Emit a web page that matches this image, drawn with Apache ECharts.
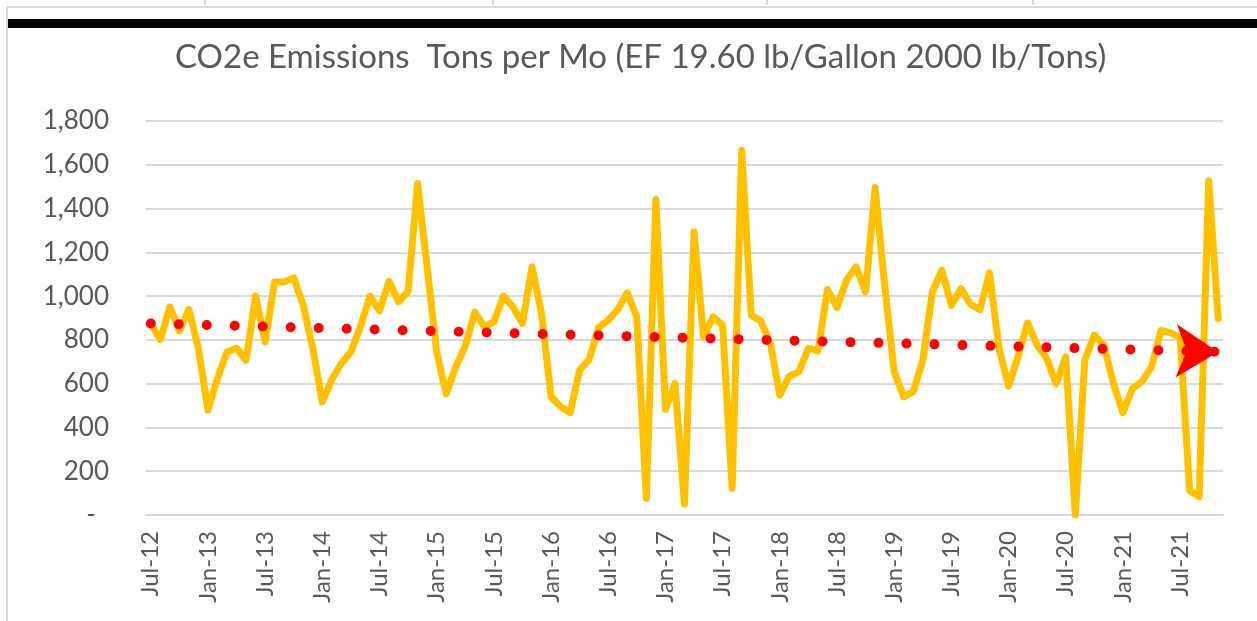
<!DOCTYPE html>
<html>
<head>
<meta charset="utf-8">
<script src="https://cdn.jsdelivr.net/npm/echarts@6/dist/echarts.min.js"></script>
<style>
  html, body { margin: 0; padding: 0; background: #fff; }
  #chart01 { width: 1257px; height: 621px; }
</style>
</head>
<body>
<div id="chart01"></div>
<script>
// month labels, Jul-12 .. Nov-21
var monthNames = ['Jan','Feb','Mar','Apr','May','Jun','Jul','Aug','Sep','Oct','Nov','Dec'];
var firstYear = 12, firstMonth = 6, monthCount = 113;

// CO2e tons per month
var emissions = [
    875, 802, 951, 841, 939, 761, 479, 624, 745, 762, 707, 1000,
    791, 1065, 1065, 1083, 958, 761, 517, 619, 692, 745, 860, 1000,
    933, 1068, 974, 1022, 1514, 1130, 745, 553, 677, 771, 927, 860,
    882, 1000, 951, 875, 1134, 921, 540, 495, 467, 662, 711, 857,
    890, 939, 1015, 902, 76, 1441, 482, 601, 50, 1293, 814, 905,
    867, 122, 1666, 913, 887, 787, 548, 634, 654, 761, 750, 1030,
    948, 1073, 1134, 1019, 1496, 1050, 654, 540, 563, 707, 1019, 1118,
    958, 1034, 964, 938, 1106, 761, 589, 723, 878, 776, 715, 599,
    723, 0, 708, 822, 776, 601, 467, 578, 609, 677, 844, 832,
    811, 111, 84, 1526, 898
];

// linear trend end values (start, end)
var trendEnds = [875, 745];

var categories = [];
for (var i = 0; i < monthCount; i++) {
    var m = (firstMonth + i) % 12;
    var y = firstYear + Math.floor((firstMonth + i) / 12);
    categories.push(monthNames[m] + '-' + y);
}

var txt = '#595959';
var chart01 = echarts.init(document.getElementById('chart01'), null, {renderer: 'canvas'});
var opt01 = {
    animation: false,
    title: {
        text: 'CO2e Emissions  Tons per Mo (EF 19.60 lb/Gallon 2000 lb/Tons)',
        left: 170,
        top: 36,
        textStyle: {color: txt, fontSize: 33, fontWeight: 'normal', fontFamily: 'Lato'}
    },
    graphic: [
        {type: 'rect', shape: {x: 7, y: 19, width: 1250, height: 9}, style: {fill: '#000'}},
        {type: 'line', shape: {x1: 7, y1: 7, x2: 1257, y2: 7}, style: {stroke: '#d9d9d9', lineWidth: 2}},
        {type: 'line', shape: {x1: 7, y1: 7, x2: 7, y2: 621}, style: {stroke: '#d9d9d9', lineWidth: 2}},
        {type: 'line', shape: {x1: 205, y1: 0, x2: 205, y2: 5}, style: {stroke: '#d9d9d9', lineWidth: 2}},
        {type: 'line', shape: {x1: 493, y1: 0, x2: 493, y2: 5}, style: {stroke: '#d9d9d9', lineWidth: 2}},
        {type: 'line', shape: {x1: 767, y1: 0, x2: 767, y2: 5}, style: {stroke: '#d9d9d9', lineWidth: 2}},
        {type: 'line', shape: {x1: 1033, y1: 0, x2: 1033, y2: 5}, style: {stroke: '#d9d9d9', lineWidth: 2}}
    ],
    grid: {left: 146, right: 34, top: 121, bottom: 106},
    xAxis: {
        type: 'category',
        data: categories,
        boundaryGap: true,
        axisLine: {lineStyle: {color: '#d9d9d9', width: 2}},
        axisTick: {
            length: 8,
            lineStyle: {color: '#d9d9d9', width: 2},
            interval: function (idx) { return idx % 6 === 0; }
        },
        axisLabel: {
            rotate: 90,
            margin: 16,
            color: txt,
            fontSize: 24,
            fontFamily: 'Lato',
            interval: function (idx) { return idx % 6 === 0; }
        },
        splitLine: {show: false}
    },
    yAxis: {
        type: 'value',
        min: 0,
        max: 1800,
        interval: 200,
        axisLine: {show: false},
        axisTick: {show: false},
        axisLabel: {
            color: txt,
            fontSize: 26,
            fontFamily: 'Lato',
            margin: 37,
            formatter: function (v) {
                if (v === 0) return '{d|-}';
                return v.toLocaleString('en-US');
            },
            rich: {d: {color: txt, fontSize: 26, fontFamily: 'Lato', padding: [0, 13, 0, 0]}}
        },
        splitLine: {lineStyle: {color: '#d9d9d9', width: 2}}
    },
    series: [
        {
            name: 'CO2e',
            type: 'line',
            data: emissions,
            symbol: 'none',
            lineStyle: {color: '#ffc000', width: 7, join: 'round', cap: 'round'},
            markLine: {
                silent: true,
                symbol: ['none', 'arrow'],
                symbolSize: [40, 42],
                symbolOffset: [0, 0],
                label: {show: false},
                lineStyle: {color: '#ff0000', width: 10, type: [0, 28], cap: 'round'},
                data: [[
                    {coord: [categories[0], trendEnds[0]]},
                    {coord: [categories[monthCount - 1], trendEnds[1]]}
                ]]
            }
        }
    ]
};
chart01.setOption(opt01);
</script>
</body>
</html>
